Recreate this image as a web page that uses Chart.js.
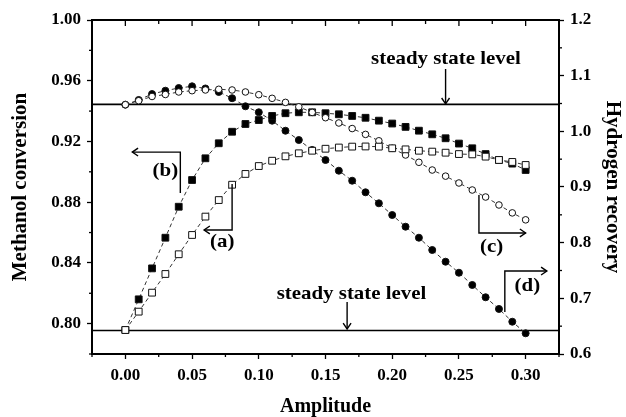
<!DOCTYPE html>
<html><head><meta charset="utf-8">
<script src="https://cdn.jsdelivr.net/npm/chart.js@4.4.0/dist/chart.umd.min.js"></script>
<style>html,body{margin:0;padding:0;background:#fff;}#wrap{width:626px;height:417px;}</style>
</head><body><div id="wrap"><canvas id="c" width="626" height="417"></canvas></div>
<script>
// ---- data ----
const amplitude = [0.00,0.01,0.02,0.03,0.04,0.05,0.06,0.07,0.08,0.09,0.10,0.11,0.12,0.13,0.14,0.15,0.16,0.17,0.18,0.19,0.20,0.21,0.22,0.23,0.24,0.25,0.26,0.27,0.28,0.29,0.30];
// (a) methanol conversion, open squares (left axis)
const convA = [0.7958,0.8079,0.8204,0.8327,0.8457,0.8584,0.8705,0.8814,0.8915,0.8986,0.9038,0.9073,0.9102,0.9122,0.9139,0.9152,0.9160,0.9166,0.9167,0.9166,0.9155,0.9148,0.9139,0.9133,0.9126,0.9117,0.9115,0.9100,0.9078,0.9065,0.9045];
// (b) methanol conversion, filled squares (left axis)
const convB = [0.7958,0.8160,0.8364,0.8566,0.8770,0.8946,0.9089,0.9188,0.9264,0.9315,0.9341,0.9368,0.9386,0.9392,0.9392,0.9386,0.9379,0.9368,0.9356,0.9337,0.9318,0.9296,0.9271,0.9247,0.9221,0.9186,0.9155,0.9117,0.9078,0.9054,0.9012];
// (c) hydrogen recovery, open circles (right axis)
const recC = [1.0479,1.0550,1.0626,1.0662,1.0707,1.0730,1.0743,1.0755,1.0743,1.0707,1.0658,1.0593,1.0520,1.0440,1.0340,1.0245,1.0150,1.0050,0.9945,0.9830,0.9695,0.9575,0.9444,0.9305,0.9195,0.9072,0.8946,0.8820,0.8677,0.8535,0.8410];
// (d) hydrogen recovery, filled circles (right axis)
const recD = [1.0479,1.0563,1.0670,1.0730,1.0778,1.0809,1.0770,1.0707,1.0595,1.0450,1.0342,1.0191,1.0011,0.9844,0.9665,0.9485,0.9293,0.9113,0.8905,0.8707,0.8497,0.8287,0.8089,0.7868,0.7658,0.7460,0.7240,0.7019,0.6809,0.6580,0.6372];
const steadyConversion = 0.7955;
const steadyRecovery = 1.0485;
const xTicks = [0.00,0.05,0.10,0.15,0.20,0.25,0.30];
const xMinor = [-0.025,0.025,0.075,0.125,0.175,0.225,0.275,0.325];
const yTicks = [0.80,0.84,0.88,0.92,0.96,1.00];
const yMinor = [0.78,0.82,0.86,0.90,0.94,0.98];
const y2Ticks = [0.6,0.7,0.8,0.9,1.0,1.1,1.2];
const y2Minor = [0.65,0.75,0.85,0.95,1.05,1.15];

// ---- annotation layout ----
const FONT = "'Liberation Serif','Times New Roman',serif";
const arrows = [
  {axis:'y',  pts:[[0.0412,0.886],[0.0412,0.913],[0.0052,0.913]]},
  {axis:'y',  pts:[[0.080,0.892],[0.080,0.8617],[0.059,0.8617]]},
  {axis:'y2', pts:[[0.265,0.8856],[0.265,0.8174],[0.300,0.8174]]},
  {axis:'y2', pts:[[0.2844,0.6755],[0.2844,0.749],[0.3159,0.749]]},
  {axis:'y2', pts:[[0.240,1.112],[0.240,1.0495]]},
  {axis:'y',  pts:[[0.1662,0.8142],[0.1662,0.7965]]}
];
const labels = [
  {axis:'y',  x:0.030,  y:0.9005, text:'(b)'},
  {axis:'y',  x:0.0726, y:0.854,  text:'(a)'},
  {axis:'y2', x:0.2745, y:0.7928, text:'(c)'},
  {axis:'y2', x:0.3013, y:0.7213, text:'(d)'},
  {axis:'y2', x:0.2403, y:1.130,  text:'steady state level'},
  {axis:'y',  x:0.1695, y:0.8195, text:'steady state level'}
];

const decor = {
  id:'decor',
  beforeDatasetsDraw(chart){
    const {ctx, chartArea:ca, scales} = chart;
    ctx.save();
    ctx.strokeStyle='#000'; ctx.lineWidth=1.6;
    [[scales.y,steadyConversion],[scales.y2,steadyRecovery]].forEach(([s,v])=>{
      const py=s.getPixelForValue(v);
      ctx.beginPath(); ctx.moveTo(ca.left,py); ctx.lineTo(ca.right,py); ctx.stroke();
    });
    ctx.restore();
  },
  afterDraw(chart){
    const {ctx, chartArea:ca, scales} = chart;
    const {x,y,y2} = scales;
    ctx.save();
    ctx.strokeStyle='#000';
    ctx.lineWidth=2;
    ctx.beginPath(); ctx.moveTo(ca.left-1,ca.top); ctx.lineTo(ca.right+1,ca.top); ctx.stroke();
    ctx.lineWidth=1.3;
    xTicks.forEach(v=>{const px=x.getPixelForValue(v);ctx.beginPath();ctx.moveTo(px,ca.top);ctx.lineTo(px,ca.top+6);ctx.stroke();});
    xMinor.forEach(v=>{const px=x.getPixelForValue(v);ctx.beginPath();ctx.moveTo(px,ca.top);ctx.lineTo(px,ca.top+4);ctx.stroke();});
    xMinor.forEach(v=>{const px=x.getPixelForValue(v);ctx.beginPath();ctx.moveTo(px,ca.bottom);ctx.lineTo(px,ca.bottom+3);ctx.stroke();});
    yMinor.forEach(v=>{const py=y.getPixelForValue(v);ctx.beginPath();ctx.moveTo(ca.left,py);ctx.lineTo(ca.left-3,py);ctx.stroke();});
    y2Minor.forEach(v=>{const py=y2.getPixelForValue(v);ctx.beginPath();ctx.moveTo(ca.right,py);ctx.lineTo(ca.right+3,py);ctx.stroke();});
    ctx.lineWidth=1.4;
    arrows.forEach(a=>{
      const s=scales[a.axis];
      const p=a.pts.map(([vx,vy])=>[x.getPixelForValue(vx),s.getPixelForValue(vy)]);
      ctx.beginPath(); ctx.moveTo(p[0][0],p[0][1]);
      for(let i=1;i<p.length;i++) ctx.lineTo(p[i][0],p[i][1]);
      ctx.stroke();
      const [tx,ty]=p[p.length-1],[fx,fy]=p[p.length-2];
      const ang=Math.atan2(ty-fy,tx-fx), L=7, w=0.6;
      ctx.beginPath();
      ctx.moveTo(tx-L*Math.cos(ang-w),ty-L*Math.sin(ang-w));
      ctx.lineTo(tx,ty);
      ctx.lineTo(tx-L*Math.cos(ang+w),ty-L*Math.sin(ang+w));
      ctx.stroke();
    });
    ctx.fillStyle='#000';
    ctx.font="bold 19px "+FONT;
    ctx.textAlign='center'; ctx.textBaseline='middle';
    labels.forEach(l=>{
      const s=scales[l.axis];
      ctx.save();
      ctx.translate(x.getPixelForValue(l.x),s.getPixelForValue(l.y));
      ctx.scale(1.1,1);
      ctx.fillText(l.text,0,0);
      ctx.restore();
    });
    ctx.restore();
  }
};

const tickFont = {family:FONT, weight:'bold', size:17};
const titleFontX = {family:FONT, weight:'bold', size:20, lineHeight:1};
const titleFontY = {family:FONT, weight:'bold', size:21, lineHeight:1};

function series(vals, axis, style, filled, r){
  return {
    data: amplitude.map((v,i)=>({x:v,y:vals[i]})),
    yAxisID: axis, showLine:true,
    borderColor:'#333', borderWidth:1, borderDash:[4,3],
    pointStyle:style, pointRadius:r, pointHoverRadius:r,
    pointBackgroundColor: filled ? '#000' : '#fff',
    pointBorderColor:'#111', pointBorderWidth:1
  };
}

new Chart(document.getElementById('c'), {
  type:'scatter',
  data:{datasets:[
    series(convA,'y','rect',false,4.8),
    series(recC,'y2','circle',false,3.3),
    series(convB,'y','rect',true,4.8),
    series(recD,'y2','circle',true,3.5)
  ]},
  options:{
    responsive:false, animation:false, devicePixelRatio:1,
    layout:{padding:{top:20,left:0,right:0,bottom:0}},
    plugins:{legend:{display:false}, tooltip:{enabled:false}},
    scales:{
      x:{type:'linear', position:'bottom', min:-0.025, max:0.325,
        afterBuildTicks:s=>{s.ticks=xTicks.map(v=>({value:v}));},
        afterFit:s=>{s.height=63;},
        ticks:{callback:v=>v.toFixed(2), font:tickFont, color:'#000', padding:6, maxRotation:0, autoSkip:false},
        grid:{drawOnChartArea:false, tickLength:5, tickWidth:1.3, tickColor:'#000'},
        border:{color:'#000', width:2},
        title:{display:true, text:'Amplitude', font:titleFontX, color:'#000', padding:{top:0,bottom:0}}
      },
      y:{type:'linear', position:'left', min:0.78, max:1.00,
        afterBuildTicks:s=>{s.ticks=yTicks.map(v=>({value:v}));},
        afterFit:s=>{s.width=92;},
        ticks:{callback:v=>v.toFixed(2), font:tickFont, color:'#000', padding:6, autoSkip:false},
        grid:{drawOnChartArea:false, tickLength:5, tickWidth:1.3, tickColor:'#000'},
        border:{color:'#000', width:2},
        title:{display:true, text:'Methanol conversion', font:titleFontY, color:'#000', padding:{top:10,bottom:0}}
      },
      y2:{type:'linear', position:'right', min:0.6, max:1.2,
        afterBuildTicks:s=>{s.ticks=y2Ticks.map(v=>({value:v}));},
        afterFit:s=>{s.width=67;},
        ticks:{callback:v=>v.toFixed(1), font:tickFont, color:'#000', padding:6, autoSkip:false},
        grid:{drawOnChartArea:false, tickLength:5, tickWidth:1.3, tickColor:'#000'},
        border:{color:'#000', width:2},
        title:{display:true, text:'Hydrogen recovery', font:titleFontY, color:'#000', padding:{top:3,bottom:0}}
      }
    }
  },
  plugins:[decor]
});
</script>
</body></html>
